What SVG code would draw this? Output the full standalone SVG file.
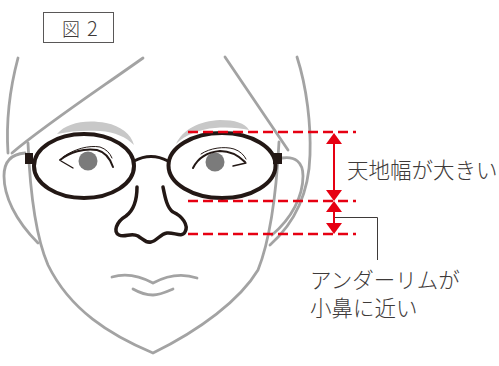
<svg xmlns="http://www.w3.org/2000/svg" width="499" height="366" viewBox="0 0 499 366">
  <style>
    .face { fill: none; stroke: #a3a3a3; stroke-width: 2.8; stroke-linecap: round; stroke-linejoin: round; }
    .brow { fill: #c8c8c8; stroke: none; }
    .ink { fill: none; stroke: #231815; stroke-linecap: round; stroke-linejoin: round; }
    .frame { fill: none; stroke: #231815; stroke-width: 4; }
    .iris { fill: #7b7b7b; }
    .dash { fill: none; stroke: #e60012; stroke-width: 2.4; stroke-dasharray: 10 5; }
    .dim { fill: none; stroke: #e60012; stroke-width: 2; }
    .head { fill: #e60012; }
    .label { font-family: "Noto Sans CJK JP", "Noto Sans", sans-serif; font-size: 21.5px; font-weight: 300; fill: #3e3a39; }
    .leader { fill: none; stroke: #3e3a39; stroke-width: 1; }
  </style>

  <!-- figure caption -->
  <g id="caption">
    <rect x="43.5" y="12.5" width="70" height="30" fill="#fff" stroke="#595757" stroke-width="1"/>
    <text y="35.5" font-family="'Noto Sans CJK JP', 'Noto Sans', sans-serif" font-weight="300" fill="#3e3a39"><tspan x="62" font-size="18">図</tspan><tspan x="87" font-size="20">2</tspan></text>
  </g>

  <!-- head outline -->
  <g id="head">
    <path class="face" d="M18,58 C10,88 6,122 8,153"/>
    <path class="face" d="M143,58 C95,92 45,125 12,153"/>
    <path class="face" d="M225,57 L288,150"/>
    <path class="face" d="M297,57 C307,88 311,125 310,155 C309,190 298,220 270,245"/>
    <path class="face" d="M25,153 C12,154 4,161 4,176 C4,196 15,220 38,243"/>
    <path class="face" d="M282,158 C295,156 303,162 303,176 C303,196 292,218 272,235"/>
    <path class="face" d="M28,143 C30,190 35,235 48,265 C70,310 110,335 153,353 C200,330 240,300 258,270 C270,240 276,200 279,142"/>
  </g>

  <!-- eyebrows -->
  <g id="eyebrows">
    <path class="brow" d="M57,134 C66,123 86,119 106,123 C121,126 131,134 134,145 C126,137 115,132 100,131 C85,130 70,131 57,134 Z"/>
    <path class="brow" d="M176,144 C183,129 200,121 220,120 C235,120 245,123 249,130 C240,128 228,127 215,128 C200,129 185,135 176,144 Z"/>
  </g>

  <!-- eyes -->
  <g id="eyes">
    <circle class="iris" cx="88" cy="161" r="9.5"/>
    <path class="ink" stroke-width="2" d="M60,160 C70,152 84,148 97,150 C105,152 110,158 113,167"/>
    <path class="ink" stroke-width="1" d="M63,157 C74,149 89,145 100,147 C106,149 110,153 112,158"/>
    <path class="ink" stroke-width="1.4" d="M61,161 L73,168"/>
    <circle class="iris" cx="215" cy="162" r="9.5"/>
    <path class="ink" stroke-width="2" d="M193,168 C198,158 208,152 220,151 C230,151 238,155 245,162"/>
    <path class="ink" stroke-width="1" d="M201,154 C210,148 224,146 234,149 C240,151 244,155 246,159"/>
    <path class="ink" stroke-width="1.4" d="M233,166 L246,163"/>
  </g>

  <!-- nose and mouth -->
  <g id="nose">
    <path class="ink" stroke-width="3.5" d="M137,187 C137,200 134,210 126,216 C116,222 113,232 119,235 C125,238 131,232 138,236 C144,240 146,243 151,242 C157,241 160,234 167,233 C174,232 182,238 185,232 C189,225 182,216 173,212 C167,208 165,197 163,187"/>
  </g>
  <g id="mouth">
    <path class="face" stroke-width="2.6" d="M112,277 C125,273 140,276 153,283 C166,276 182,273 197,278"/>
    <path class="face" stroke-width="2.4" stroke="#9a9a9a" d="M133,289 C140,293 146,295 153,295 C160,295 166,292 173,289"/>
  </g>

  <!-- spectacles -->
  <g id="glasses">
    <ellipse class="frame" cx="84" cy="166" rx="50" ry="32"/>
    <ellipse class="frame" cx="222" cy="165.5" rx="53.5" ry="32.5"/>
    <path class="ink" stroke-width="3" d="M134,161 Q151,152 168,161"/>
    <rect x="25" y="153" width="8" height="11" fill="#231815"/>
    <rect x="273" y="153" width="9" height="11" fill="#231815"/>
  </g>

  <!-- reference lines and dimension arrows -->
  <g id="connectors">
    <path class="dash" d="M188,132 H356"/>
    <path class="dash" d="M188,201 H356"/>
    <path class="dash" d="M188,234 H356"/>
    <path class="dim" d="M334,142 V192"/>
    <path class="dim" d="M334,210 V225"/>
    <path class="head" d="M334,133 L342,144 L326,144 Z"/>
    <path class="head" d="M334,201 L342,190 L326,190 Z"/>
    <path class="head" d="M334,201 L342,212 L326,212 Z"/>
    <path class="head" d="M334,234 L342,223 L326,223 Z"/>
    <path class="leader" d="M335,217.5 H377.5 V260"/>
  </g>

  <!-- labels -->
  <g id="label-height">
    <text class="label" x="347" y="178">天地幅が大きい</text>
  </g>
  <g id="label-rim">
    <text class="label" x="310" y="288">アンダーリムが</text>
    <text class="label" x="310" y="316">小鼻に近い</text>
  </g>
</svg>
